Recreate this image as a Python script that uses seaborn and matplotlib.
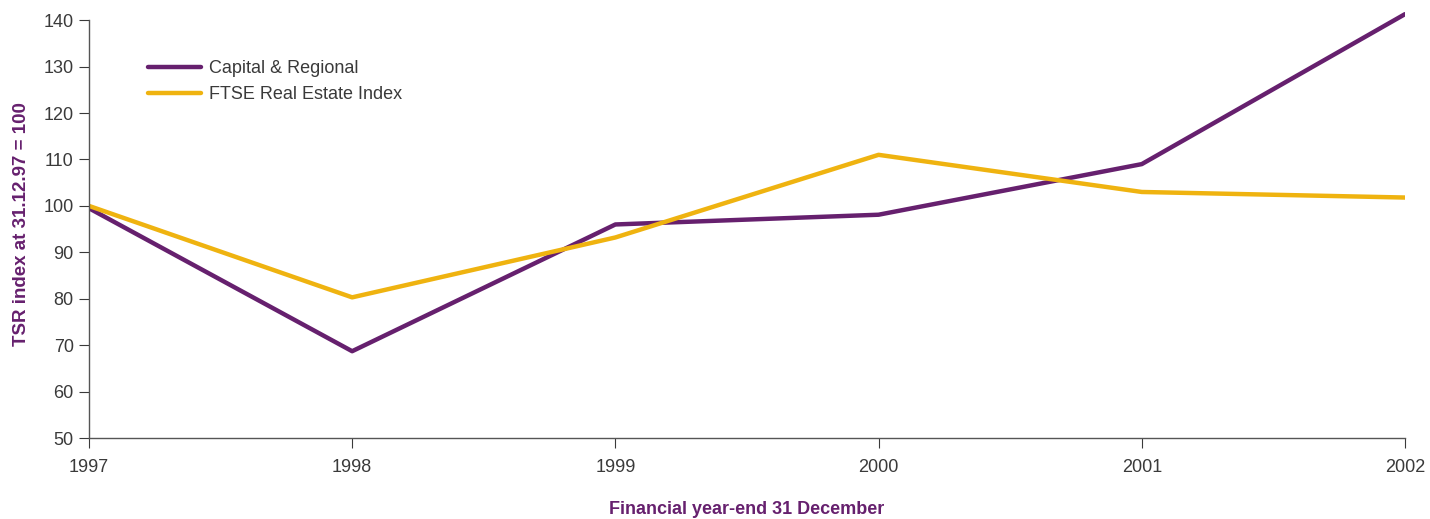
import matplotlib

matplotlib.use('Agg')
import matplotlib.pyplot as plt
import seaborn as sns
import pandas as pd

years = [1997, 1998, 1999, 2000, 2001, 2002]
capital_regional = [99.5, 68.7, 96.0, 98.1, 109.0, 141.3]
ftse_real_estate = [100.0, 80.3, 93.2, 111.0, 103.0, 101.8]
series_names = ['Capital & Regional', 'FTSE Real Estate Index']
y_ticks = [50, 60, 70, 80, 90, 100, 110, 120, 130, 140]

purple = '#66206e'
gold = '#efb310'
text_grey = '#3a3a3a'

df = pd.DataFrame({
    'year': years * 2,
    'value': capital_regional + ftse_real_estate,
    'series': [series_names[0]] * len(years) + [series_names[1]] * len(years),
})

sns.set_style('white')
plt.rcParams['font.family'] = ['Liberation Sans', 'DejaVu Sans']
plt.rcParams['font.size'] = 12

fig = plt.figure(figsize=(14.3, 5.19), dpi=100)
ax = fig.add_axes([0.0622, 0.156, 0.9203, 0.823])

sns.lineplot(
    data=df, x='year', y='value', hue='series',
    palette=[purple, gold], linewidth=3.2, ax=ax
)

ax.set_xlim(1997, 2002)
ax.set_ylim(50, 142)
ax.set_xticks(years)
ax.set_xticklabels([str(y) for y in years])
ax.set_yticks(y_ticks)

for s in ['top', 'right']:
    ax.spines[s].set_visible(False)
for s in ['left', 'bottom']:
    ax.spines[s].set_color('#555555')
    ax.spines[s].set_linewidth(1.0)
ax.spines['left'].set_bounds(50, 140)

ax.tick_params(axis='both', colors=text_grey, labelsize=13, length=7,
               width=0.8, direction='out', left=True, bottom=True)
ax.tick_params(axis='x', pad=8)
ax.tick_params(axis='y', pad=4)

ax.set_xlabel('Financial year-end 31 December', color=purple,
              fontsize=13, fontweight='bold', va='center')
ax.xaxis.set_label_coords(0.5, -0.168)
ax.set_ylabel('TSR index at 31.12.97 = 100', color=purple,
              fontsize=13.5, fontweight='bold', labelpad=10)

leg = ax.legend(loc='upper left', bbox_to_anchor=(0.0327, 0.922), frameon=False,
                fontsize=13, handlelength=2.9, handletextpad=0.45,
                labelspacing=0.5, title=None)
for t in leg.get_texts():
    t.set_color(text_grey)

fig.savefig('out.png', dpi=100)
plt.close(fig)
